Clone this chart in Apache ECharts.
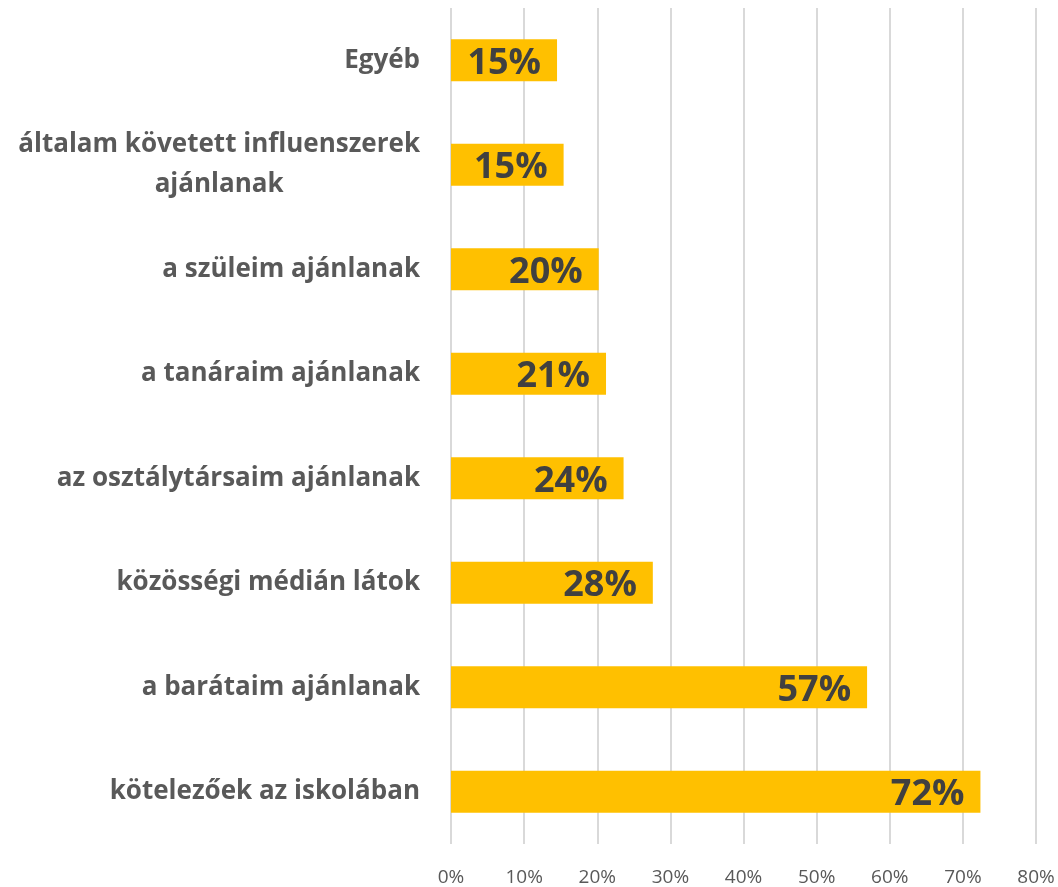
<!DOCTYPE html>
<html>
<head>
<meta charset="utf-8">
<script src="https://cdn.jsdelivr.net/npm/echarts@6/dist/echarts.min.js"></script>
<style>
  html, body { margin: 0; padding: 0; background: #fff; }
  #main { width: 1058px; height: 887px; }
</style>
</head>
<body>
<div id="main"></div>
<script>
// categories, bottom to top
var categories = [
  'kötelezőek az iskolában',
  'a barátaim ajánlanak',
  'közösségi médián látok',
  'az osztálytársaim ajánlanak',
  'a tanáraim ajánlanak',
  'a szüleim ajánlanak',
  'általam követett influenszerek\najánlanak',
  'Egyéb'
];
var values = [72.4, 56.9, 27.6, 23.6, 21.2, 20.2, 15.4, 14.5];
var labels = ['72%', '57%', '28%', '24%', '21%', '20%', '15%', '15%'];
var ticks = [0, 10, 20, 30, 40, 50, 60, 70, 80];

var font = '"Open Sans", sans-serif';

var chart = echarts.init(document.getElementById('main'));

chart.setOption({
  animation: false,
  grid: {
    left: 451,
    right: 22,
    top: 8,
    bottom: 42
  },
  xAxis: {
    type: 'value',
    min: ticks[0],
    max: ticks[ticks.length - 1],
    interval: 10,
    axisLine: { show: false },
    axisTick: { show: false },
    splitLine: { lineStyle: { color: '#d9d9d9', width: 2 } },
    axisLabel: {
      margin: 24,
      color: '#595959',
      fontSize: 19,
      fontFamily: font,
      formatter: function (v) { return v + '%' }
    }
  },
  yAxis: {
    type: 'category',
    data: categories,
    axisLine: { show: false },
    axisTick: { show: false },
    axisLabel: {
      margin: 31,
      formatter: function (v) {
        // wrapped label: lines centred inside the block
        return v.split('\n').map(function (s) { return '{c|' + s + '}' }).join('\n')
      },
      rich: {
        c: {
          align: 'center',
          color: '#595959',
          fontSize: 26,
          fontWeight: 'bold',
          fontFamily: font,
          lineHeight: 40
        }
      }
    }
  },
  series: [{
    type: 'bar',
    data: values,
    barWidth: 42,
    itemStyle: { color: '#FFC000' },
    label: {
      show: true,
      position: 'insideRight',
      distance: 16,
      offset: [0, 3],
      color: '#404040',
      fontSize: 36,
      fontWeight: 'bold',
      fontFamily: font,
      formatter: function (p) { return labels[p.dataIndex] }
    }
  }]
});
</script>
</body>
</html>
